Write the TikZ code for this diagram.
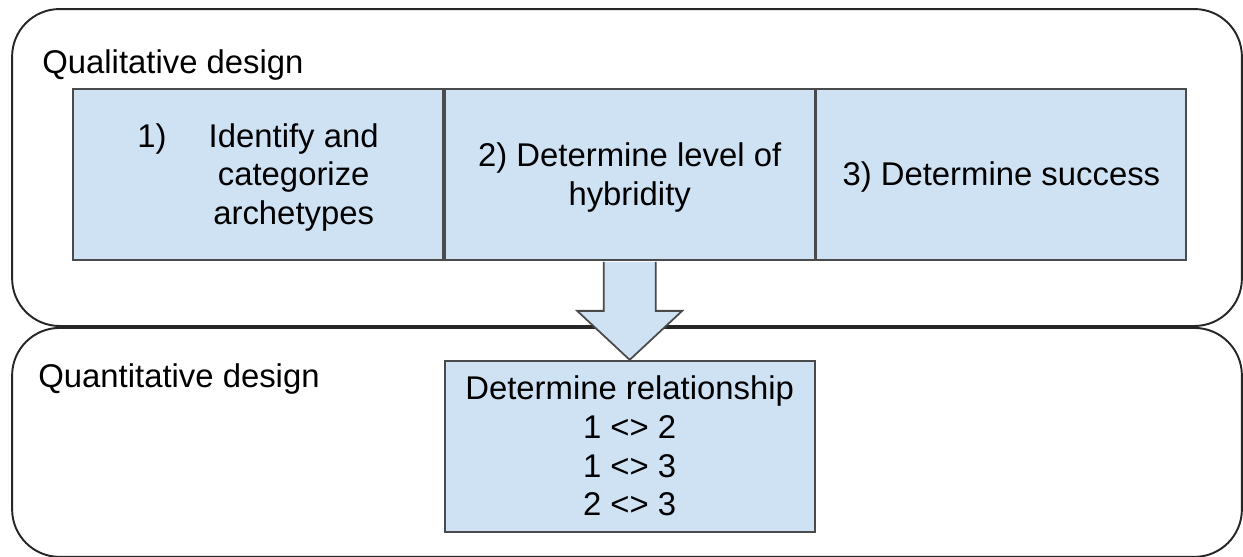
\documentclass[tikz,border=0pt]{standalone}
\usepackage{fontspec}
\setmainfont{Liberation Sans}
\usetikzlibrary{positioning, calc}
\definecolor{stageblue}{HTML}{CFE2F3}
\definecolor{edgegray}{HTML}{4A4A4A}

\begin{document}
\begin{tikzpicture}[
  x=0.02cm, y=-0.02cm,
  font=\fontsize{18.7}{22.1}\selectfont,
  phase/.style={rectangle, rounded corners=0.95cm, draw=black!85, line width=1.1pt,
                minimum width=24.6cm, inner sep=0pt},
  stagebox/.style={rectangle, draw=edgegray, fill=stageblue, line width=1pt,
                   minimum width=7.4cm, minimum height=3.42cm, inner sep=0pt,
                   align=center, text height=16.9pt, text depth=3.96pt},
  phaselabel/.style={anchor=base west, inner sep=0pt},
  blockarrow/.style={draw=edgegray, fill=stageblue, line width=1pt, line join=miter},
]
\useasboundingbox (0,0) rectangle (1243,556);
\node[phase, minimum height=6.34cm] (qual) at (627,167.5) {};
\node[phase, minimum height=4.58cm, below=0pt of qual] (quant) {};
\node[phaselabel] (qualtitle)  at (42,73)  {Qualitative design};
\node[phaselabel] (quanttitle) at (38,387) {Quantitative design};
\node[stagebox, text depth=48.2pt] (stage1) at (258,174.5)
  {\begin{tabular}[t]{@{}l@{\hspace{24pt}}c@{}}
   1) & Identify and\\
      & categorize\\
      & archetypes
   \end{tabular}};
\node[stagebox, text height=39pt, right=0pt of stage1] (stage2)
  {2) Determine level of\\hybridity};
\node[stagebox, right=0pt of stage2] (stage3) {3) Determine success};
\node[stagebox, text height=83.2pt, below=1.98cm of stage2] (result)
  {Determine relationship\\1 <> 2\\1 <> 3\\2 <> 3};
\draw[blockarrow] ($(stage2.south)+(-26,1)$) -- ++(0,49) -- ++(-26.5,0)
  -- (result.north) -- ($(stage2.south)+(52.5,50)$) -- ++(-26.5,0)
  -- ($(stage2.south)+(26,1)$);
\end{tikzpicture}
\end{document}
